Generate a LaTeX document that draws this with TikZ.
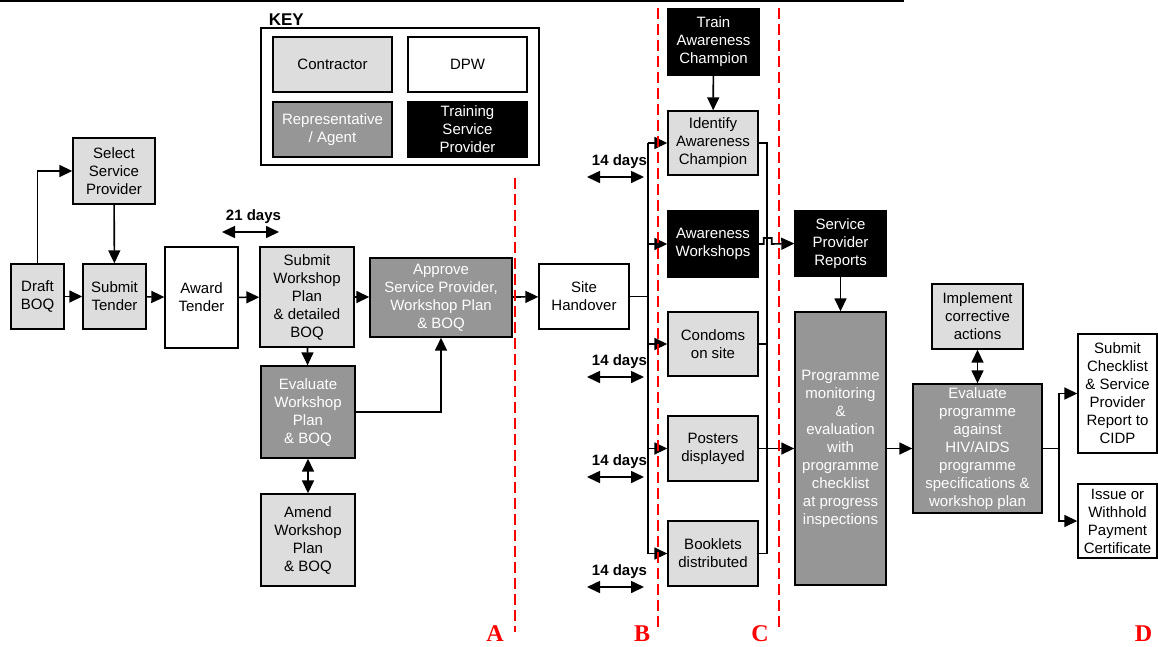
\documentclass[tikz,border=0pt]{standalone}
\usepackage{fontspec}
\setmainfont{Liberation Sans}
\newfontfamily\cutfont{Liberation Serif}
\usetikzlibrary{arrows.meta}
\definecolor{lgrey}{HTML}{DDDDDD}
\definecolor{dgrey}{HTML}{969696}
\tikzset{
  sz/.style 2 args={minimum width=#1pt,minimum height=#2pt},
  box/.style={draw=black,line width=1.4pt,align=center,inner sep=1pt},
  contr/.style={box,fill=lgrey},
  dpw/.style={box,fill=white},
  repag/.style={box,fill=dgrey,text=white},
  trainsp/.style={box,fill=black,text=white},
  arr/.style={-{Triangle[length=13pt,width=12pt]}},
  darr/.style={{Triangle[length=13pt,width=12pt]}-{Triangle[length=13pt,width=12pt]}},
  days/.style={font=\fontsize{15}{18}\selectfont\bfseries},
  cut/.style={draw=red,line width=2pt,dash pattern=on 11pt off 5pt},
  cutlab/.style={text=red,anchor=base,inner sep=0pt,font=\cutfont\bfseries\fontsize{24}{24}\selectfont}
}
\begin{document}
\begin{tikzpicture}[x=1pt,y=-1pt,font=\fontsize{15}{18}\selectfont,line width=1.6pt]
    \useasboundingbox (0,0) rectangle (1158,646);

    \draw (0,1.2) -- (904,1.2);

    \node[anchor=base west,inner sep=0pt,font=\fontsize{17}{17}\selectfont\bfseries] (keylab) at (268,25) {KEY};
    \node[draw,sz={278}{137}] (keybox) at (400,96.5) {};
    \node[contr,sz={119}{55}] (kcon) at (332.5,64.5) {Contractor};
    \node[dpw,sz={119}{55}] (kdpw) at (467.5,64.5) {DPW};
    \node[repag,sz={119}{55}] (krep) at (332.5,129.5) {Representative\\/ Agent};
    \node[trainsp,sz={119}{55}] (ktsp) at (467.5,129.5) {Training\\Service\\Provider};

    \node[contr,sz={53}{65}] (draft) at (37.5,296.5) {Draft\\BOQ};
    \node[contr,sz={82}{66}] (select) at (114,171) {Select\\Service\\Provider};
    \node[contr,sz={63}{65}] (tender) at (114.5,296.5) {Submit\\Tender};
    \node[dpw,sz={73}{101}] (award) at (201.5,297.5) {Award\\Tender};
    \node[contr,sz={94}{100}] (submitwp) at (307,297) {Submit\\Workshop\\Plan\\\& detailed\\BOQ};
    \node[repag,sz={142}{79}] (approve) at (441,297.5) {Approve\\Service Provider,\\Workshop Plan\\\& BOQ};
    \node[repag,sz={94}{92}] (evalwp) at (308,412) {Evaluate\\Workshop\\Plan\\\& BOQ};
    \node[contr,sz={94}{92}] (amend) at (308,540) {Amend\\Workshop\\Plan\\\& BOQ};
    \node[dpw,sz={90}{65}] (handover) at (584,296.5) {Site\\Handover};

    \node[trainsp,sz={91}{66}] (train) at (713.5,42) {Train\\Awareness\\Champion};
    \node[contr,sz={90}{64}] (identify) at (713,143) {Identify\\Awareness\\Champion};
    \node[trainsp,sz={90}{66}] (workshops) at (713,244) {Awareness\\Workshops};
    \node[contr,sz={90}{64}] (condoms) at (713,344) {Condoms\\on site};
    \node[contr,sz={90}{65}] (posters) at (713,448.5) {Posters\\displayed};
    \node[contr,sz={90}{65}] (booklets) at (713,553.5) {Booklets\\distributed};

    \node[trainsp,sz={91}{65}] (reports) at (840.5,243.5) {Service\\Provider\\Reports};
    \node[repag,sz={91}{273}] (monitor) at (840.5,448.5) {Programme\\monitoring\\\&\\evaluation\\with\\programme\\checklist\\at progress\\inspections};
    \node[contr,sz={91}{65}] (implement) at (977.5,316.5) {Implement\\corrective\\actions};
    \node[repag,sz={129}{129}] (evalprog) at (977.5,448.5) {Evaluate\\programme\\against\\HIV/AIDS\\programme\\specifications \&\\workshop plan};
    \node[dpw,sz={79}{119}] (checklist) at (1117.5,393.5) {Submit\\Checklist\\\& Service\\Provider\\Report to\\CIDP};
    \node[dpw,sz={79}{74}] (issue) at (1117.5,521) {Issue or\\Withhold\\Payment\\Certificate};

    \coordinate (bsplit) at (648,296.5);
    \coordinate (cjoin) at (767,448.5);
    \coordinate (rsplit) at (1059,448.5);

    \draw[arr] (draft.north) |- (select.west);
    \draw[arr] (select) -- (tender);
    \draw[arr] (draft) -- (tender);
    \draw[arr] (tender) -- (award);
    \draw[arr] (award) -- (submitwp);
    \draw[arr] (submitwp.east) -- (approve.west |- submitwp.east);
    \draw[arr] (approve) -- (handover);
    \draw[arr] (submitwp) -- (evalwp);
    \draw[arr] (evalwp.east) -| (approve.south);
    \draw[darr] (evalwp) -- (amend);

    \coordinate (d21a) at (222,232);
    \coordinate (d21b) at (279,232);
    \draw[darr] (d21a) -- (d21b);
    \node[days] (d21) at (253.5,217) {21 days};

    \draw (handover) -- (bsplit);
    \draw (identify.west -| bsplit) -- (booklets.west -| bsplit);
    \foreach \n in {identify,workshops,condoms,posters,booklets}
      \draw[arr] (\n.west -| bsplit) -- (\n.west);
    \draw[arr] (train) -- (identify);

    \foreach \y in {177,377,477,587} {
      \coordinate (da\y) at (587,\y);
      \coordinate (db\y) at (644,\y);
      \draw[darr] (da\y) -- (db\y);
      \node[days] (dl\y) at (619.5,\y-15) {14 days};
    }

    \draw (identify.east) -| (cjoin) |- (booklets.east);
    \draw (condoms.east) -- (condoms.east -| cjoin);
    \draw[arr] (posters) -- (monitor);
    \draw[arr] (workshops.east) -- ++(5,0) -- ++(0,-6) -- ++(8,0) -- ++(0,6) -- (reports.west);

    \draw[arr] (reports) -- (monitor);
    \draw[arr] (monitor) -- (evalprog);
    \draw[darr] (implement) -- (evalprog);
    \draw (evalprog) -- (rsplit);
    \draw[arr] (rsplit) |- (checklist.west);
    \draw[arr] (rsplit) |- (issue.west);

    \draw[cut] (515,178) -- (515,632);
    \draw[cut] (658,8) -- (658,632);
    \draw[cut] (779,8) -- (779,632);
    \node[cutlab] (cutA) at (495,641) {A};
    \node[cutlab] (cutB) at (642,641) {B};
    \node[cutlab] (cutC) at (760,641) {C};
    \node[cutlab] (cutD) at (1143.5,641) {D};

  \end{tikzpicture}
\end{document}
